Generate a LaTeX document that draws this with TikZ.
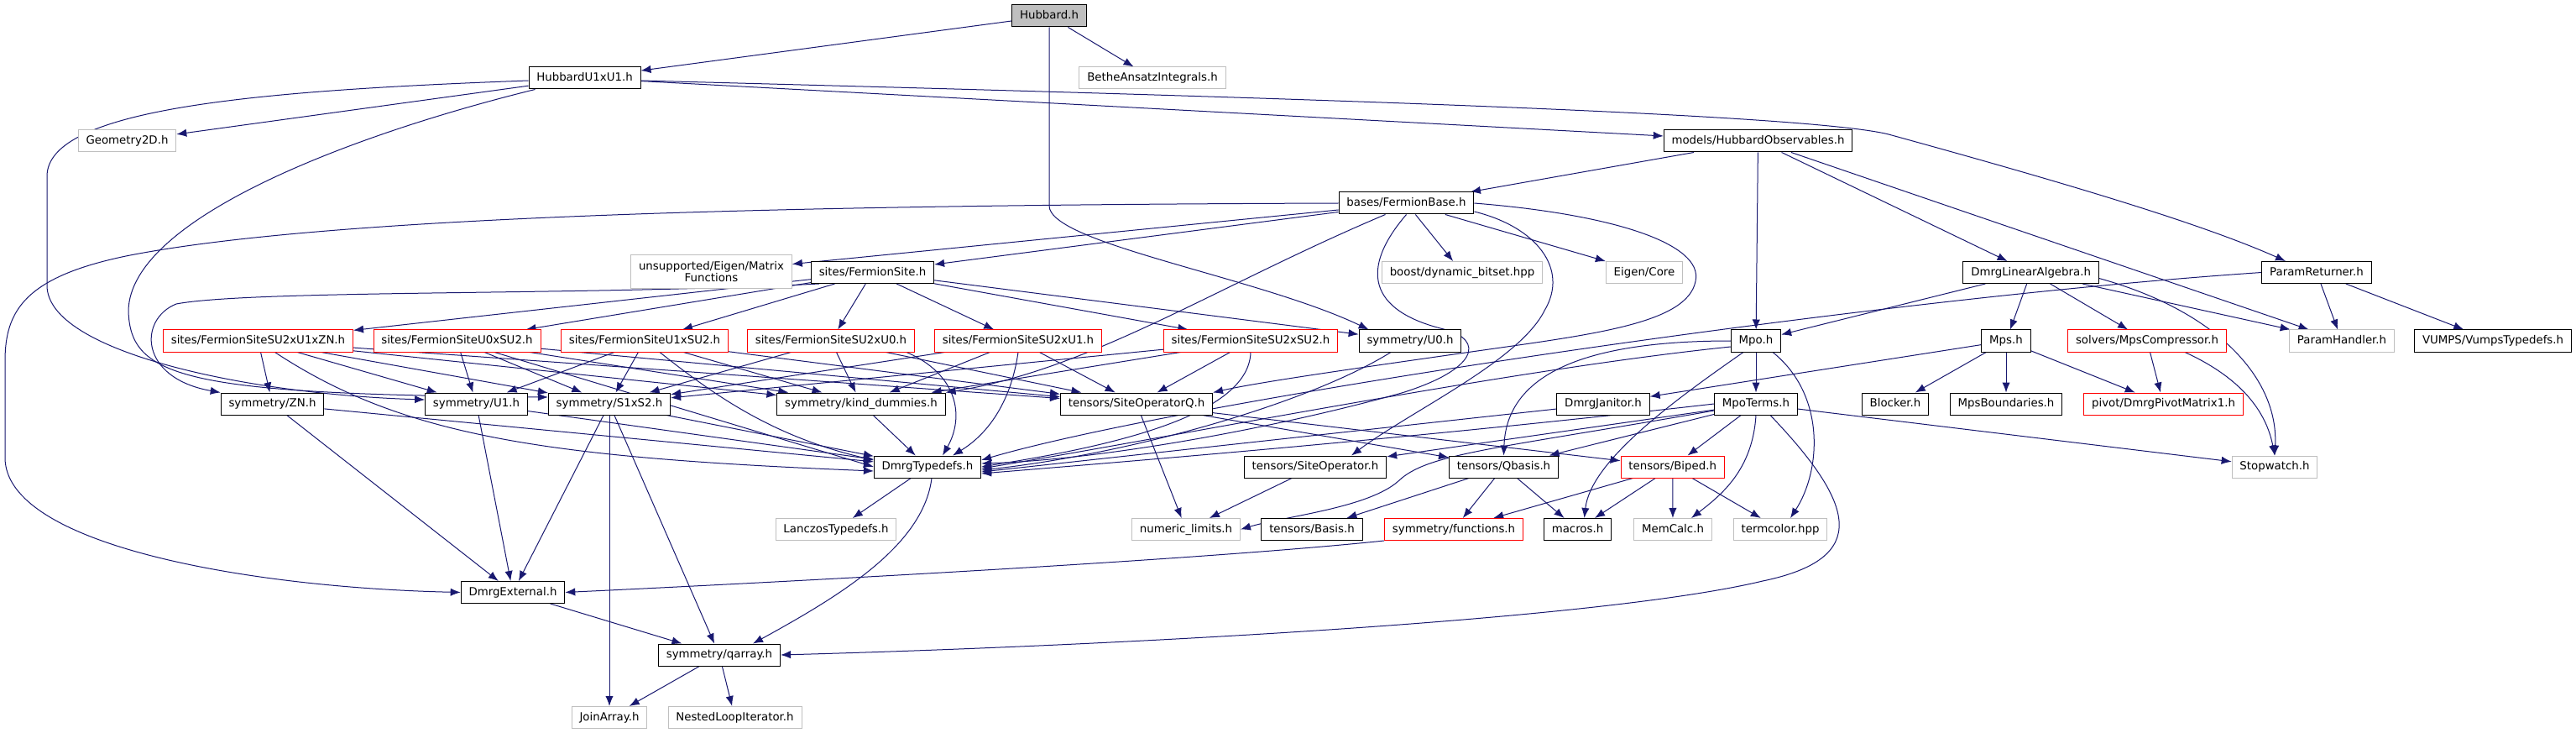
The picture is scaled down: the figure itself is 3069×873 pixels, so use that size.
\documentclass[tikz,border=0pt]{standalone}
\usepackage{fontspec}
\setmainfont{DejaVu Sans}
\usetikzlibrary{arrows.meta,calc}
\pgfdeclarelayer{bgl}
\pgfdeclarelayer{edgel}
\pgfsetlayers{bgl,edgel,main}
\definecolor{edgeblue}{HTML}{191970}
\definecolor{extgray}{HTML}{BFBFBF}
\definecolor{rootgray}{HTML}{BFBFBF}
\definecolor{truncred}{HTML}{FF0000}
\tikzset{
  nbase/.style={draw, line width=0.75pt, fill=white, font=\fontsize{10}{10.5}\selectfont, inner xsep=7pt, inner ysep=0pt},
  box/.style={nbase, minimum height=19.5pt, text height=7.6pt, text depth=2.2pt},
  doc/.style={box, draw=black},
  ext/.style={box, draw=extgray},
  trunc/.style={box, draw=truncred},
  root/.style={box, draw=black, fill=rootgray},
  e/.style={draw=edgeblue, line width=0.75pt, -{Latex[length=9pt,width=7pt]}},
}
\begin{document}
\begin{tikzpicture}[x=0.75pt,y=-0.75pt]
\begin{pgfonlayer}{bgl}
\fill[white] (0,0) rectangle (3069,873);
\end{pgfonlayer}
\useasboundingbox (0,0) rectangle (3069,873);
% row 0-3
\node[root] (hub) at (1250,19) {Hubbard.h};
\node[doc] (huu) at (696.5,93) {HubbardU1xU1.h};
\node[ext] (bethe) at (1373,93) {BetheAnsatzIntegrals.h};
\node[ext] (geo) at (151.5,168) {Geometry2D.h};
\node[doc] (ho) at (2094.5,168) {models/HubbardObservables.h};
\node[doc] (fb) at (1675.5,242) {bases/FermionBase.h};
% row 4
\node[nbase, draw=extgray, align=center, minimum height=30pt] (mf) at (847.5,324) {unsupported/Eigen/Matrix\\Functions};
\node[doc] (fs) at (1039.5,324.5) {sites/FermionSite.h};
\node[ext] (boost) at (1742,324.5) {boost/dynamic\_bitset.hpp};
\node[ext] (eigen) at (1959,324.5) {Eigen/Core};
\node[doc] (dla) at (2419.6,324.5) {DmrgLinearAlgebra.h};
\node[doc] (pr) at (2760,324.5) {ParamReturner.h};
% row 5
\node[trunc] (s1) at (307.5,406) {sites/FermionSiteSU2xU1xZN.h};
\node[trunc] (s2) at (544.5,406) {sites/FermionSiteU0xSU2.h};
\node[trunc] (s3) at (768,406) {sites/FermionSiteU1xSU2.h};
\node[trunc] (s4) at (990,406) {sites/FermionSiteSU2xU0.h};
\node[trunc] (s5) at (1213,406) {sites/FermionSiteSU2xU1.h};
\node[trunc] (s6) at (1490,406) {sites/FermionSiteSU2xSU2.h};
\node[doc] (u0) at (1680,406) {symmetry/U0.h};
\node[doc] (mpo) at (2092,406) {Mpo.h};
\node[doc] (mps) at (2390,406) {Mps.h};
\node[trunc] (mpsc) at (2558,406) {solvers/MpsCompressor.h};
\node[ext] (ph) at (2790,406) {ParamHandler.h};
\node[doc] (vumps) at (2970,406) {VUMPS/VumpsTypedefs.h};
% row 6
\node[doc] (zn) at (324.5,481) {symmetry/ZN.h};
\node[doc] (u1) at (567.5,481) {symmetry/U1.h};
\node[doc] (s1s2) at (726,481) {symmetry/S1xS2.h};
\node[doc] (kd) at (1026,481) {symmetry/kind\_dummies.h};
\node[doc] (soq) at (1354,481) {tensors/SiteOperatorQ.h};
\node[doc] (dj) at (1910,481) {DmrgJanitor.h};
\node[doc] (mt) at (2092,481) {MpoTerms.h};
\node[doc] (blk) at (2258,481) {Blocker.h};
\node[doc] (mpsb) at (2390,481) {MpsBoundaries.h};
\node[trunc] (piv) at (2577.5,481) {pivot/DmrgPivotMatrix1.h};
% row 7
\node[doc] (dt) at (1105,556) {DmrgTypedefs.h};
\node[doc] (so) at (1567,556) {tensors/SiteOperator.h};
\node[doc] (qb) at (1791.5,556) {tensors/Qbasis.h};
\node[trunc] (bip) at (1992.7,556) {tensors/Biped.h};
\node[ext] (sw) at (2710,556) {Stopwatch.h};
% row 8
\node[ext] (lz) at (996,630.5) {LanczosTypedefs.h};
\node[ext] (nl) at (1413,630.5) {numeric\_limits.h};
\node[doc] (bas) at (1563,630.5) {tensors/Basis.h};
\node[trunc] (fn) at (1732,630.5) {symmetry/functions.h};
\node[doc] (mac) at (1879.5,630.5) {macros.h};
\node[ext] (mc) at (1993,630.5) {MemCalc.h};
\node[ext] (tc) at (2121,630.5) {termcolor.hpp};
% rows 9-11
\node[doc] (dext) at (611,705.5) {DmrgExternal.h};
\node[doc] (qa) at (857,780) {symmetry/qarray.h};
\node[ext] (ja) at (726,854.5) {JoinArray.h};
\node[ext] (nli) at (875.5,854.5) {NestedLoopIterator.h};

\begin{pgfonlayer}{edgel}
% Hubbard.h
\draw[e] (hub) -- (huu);
\draw[e] (hub) -- (bethe);
\draw[e] (hub.south) -- (1250,245) .. controls (1250,290) and (1500,330) .. ($(u0.north west)+(12,0)$);
% HubbardU1xU1.h
\draw[e] (huu) -- (geo);
\draw[e] (huu) -- (ho);
\draw[e] ($(huu.east)+(0,3)$) .. controls (1500,115) and (2150,135) .. (2250,160) .. controls (2450,215) and (2620,265) .. ($(pr.north)+(-37,0)$);
\draw[e] ($(huu.west)+(0,3)$) .. controls (300,108) and (56,130) .. (56,210) -- (56,340) .. controls (56,420) and (300,470) .. ($(u1.west)+(0,-5)$);
\draw[e] ($(huu.south west)+(8,0)$) .. controls (420,160) and (155,260) .. (153,370) .. controls (155,450) and (220,470) .. ($(s1s2.west)+(0,-8)$);
% models/HubbardObservables.h
\draw[e] (ho) -- (fb);
\draw[e] (ho) -- (mpo);
\draw[e] (ho) -- (dla);
\draw[e] (ho) -- (ph);
% bases/FermionBase.h
\draw[e] (fb) -- (mf);
\draw[e] (fb) -- (fs);
\draw[e] (fb) -- (boost);
\draw[e] (fb) -- (eigen);
\draw[e] (fb.west) .. controls (1000,244) and (400,255) .. (150,305) .. controls (30,330) and (6,370) .. (6,430) -- (6,545) .. controls (6,650) and (300,700) .. (dext.west);
\draw[e] ($(fb.south)+(-25,0)$) .. controls (1450,340) and (1300,440) .. (kd.north east);
\draw[e] (fb.south) .. controls (1620,320) and (1630,370) .. (1720,392) .. controls (1770,405) and (1760,440) .. (1670,468) .. controls (1500,515) and (1300,548) .. ($(dt.east)+(0,-4)$);
\draw[e] ($(fb.east)+(0,10)$) .. controls (1830,270) and (1870,320) .. (1840,370) .. controls (1810,430) and (1680,490) .. ($(so.north)+(43,0)$);
\draw[e] (fb.east) .. controls (1920,255) and (2030,290) .. (2020,335) .. controls (2010,385) and (1900,398) .. (1760,418) .. controls (1620,438) and (1500,455) .. (soq.north east);
% sites/FermionSite.h
\draw[e] (fs) -- (s1);
\draw[e] (fs) -- (s2);
\draw[e] (fs) -- (s3);
\draw[e] (fs) -- (s4);
\draw[e] (fs) -- (s5);
\draw[e] (fs) -- (s6);
\draw[e] (fs) -- (u0);
\draw[e] ($(fs.south west)+(10,0)$) .. controls (700,352) and (300,345) .. (210,362) .. controls (165,380) and (165,450) .. (zn.north west);
% DmrgLinearAlgebra.h
\draw[e] (dla) -- (mpo);
\draw[e] (dla) -- (mps);
\draw[e] (dla) -- (mpsc);
\draw[e] (dla) -- (ph);
\draw[e] ($(dla.east)+(0,7)$) .. controls (2640,370) and (2715,450) .. (sw.north);
% ParamReturner.h
\draw[e] (pr) -- (ph);
\draw[e] (pr) -- (vumps);
\draw[e] (pr.west) .. controls (2200,358) and (1400,480) .. ($(dt.east)+(0,-8)$);
% site files
\draw[e] (s1) -- (zn);
\draw[e] (s1) -- (u1);
\draw[e] (s1) -- (s1s2);
\draw[e] (s1) -- (kd);
\draw[e] (s1) -- (soq);
\draw[e] ($(s1.south)+(20,0)$) .. controls (480,520) and (650,545) .. ($(dt.west)+(0,5)$);
\draw[e] (s2) -- (u1);
\draw[e] (s2) -- (s1s2);
\draw[e] (s2) -- (kd);
\draw[e] (s2) -- (soq);
\draw[e] (s2) -- (dt.west);
\draw[e] (s3) -- (u1);
\draw[e] (s3) -- (s1s2);
\draw[e] (s3) -- (kd);
\draw[e] (s3) -- (soq);
\draw[e] ($(s3.south)+(18,0)$) .. controls (850,470) and (920,520) .. ($(dt.west)+(0,-8)$);
\draw[e] (s4) -- (s1s2);
\draw[e] (s4) -- (kd);
\draw[e] (s4) -- (soq);
\draw[e] ($(s4.south east)+(-10,0)$) .. controls (1140,445) and (1150,495) .. ($(dt.north)+(18,0)$);
\draw[e] (s5) -- (s1s2);
\draw[e] (s5) -- (kd);
\draw[e] (s5) -- (soq);
\draw[e] (s5.south) .. controls (1205,475) and (1180,515) .. ($(dt.north)+(30,0)$);
\draw[e] (s6) -- (s1s2);
\draw[e] (s6) -- (kd);
\draw[e] (s6) -- (soq);
\draw[e] (s6.south) .. controls (1488,500) and (1300,535) .. (dt.east);
% symmetry row
\draw[e] (zn) -- (dext);
\draw[e] (zn) -- (dt);
\draw[e] (u1) -- (dext);
\draw[e] (u1) -- (dt);
\draw[e] (s1s2) -- (dext);
\draw[e] (s1s2) -- (dt);
\draw[e] (s1s2) -- (qa);
\draw[e] (s1s2) -- (ja);
\draw[e] (kd) -- (dt);
\draw[e] ($(u0.south)+(-23,0)$) .. controls (1560,480) and (1350,540) .. ($(dt.east)+(0,4)$);
\draw[e] (dj) -- ($(dt.east)+(0,6)$);
% tensors/SiteOperatorQ.h
\draw[e] (soq) -- (nl);
\draw[e] (soq) -- (qb);
\draw[e] (soq) -- (bip);
% Mpo.h
\draw[e] (mpo) -- (mt);
\draw[e] (mpo.west) .. controls (1900,406) and (1795,440) .. (qb.north);
\draw[e] ($(mpo.west)+(0,7)$) .. controls (1800,440) and (1400,520) .. ($(dt.east)+(0,2)$);
\draw[e] ($(mpo.south)+(-15,0)$) .. controls (1990,480) and (1895,550) .. ($(mac.north)+(8,0)$);
\draw[e] ($(mpo.south)+(20,0)$) .. controls (2175,470) and (2170,560) .. ($(tc.north)+(12,0)$);
% MpoTerms.h
\draw[e] (mt) -- (bip);
\draw[e] (mt) -- (sw);
\draw[e] (mt) -- (qb);
\draw[e] (mt) -- (so);
\draw[e] (mt.south) .. controls (2088,560) and (2050,590) .. ($(mc.north)+(22,0)$);
\draw[e] ($(mt.west)+(0,8)$) .. controls (1780,535) and (1700,540) .. (1666,573) .. controls (1630,605) and (1530,615) .. (nl.east);
\draw[e] (mt.west) .. controls (1700,520) and (1400,545) .. ($(dt.east)+(0,8)$);
\draw[e] ($(mt.south)+(17,0)$) .. controls (2210,600) and (2230,665) .. (2100,692) .. controls (1900,740) and (1300,770) .. (qa.east);
% Mps.h, solvers
\draw[e] (mps) -- (dj);
\draw[e] (mps) -- (blk);
\draw[e] (mps) -- (mpsb);
\draw[e] (mps) -- (piv);
\draw[e] (mpsc) -- (piv);
\draw[e] ($(mpsc.south)+(45,0)$) .. controls (2670,450) and (2700,490) .. (sw.north);
% lower part
\draw[e] (so) -- (nl);
\draw[e] (qb) -- (bas);
\draw[e] (qb) -- (fn);
\draw[e] (qb) -- (mac);
\draw[e] (bip) -- (fn);
\draw[e] (bip) -- (mac);
\draw[e] (bip) -- (mc);
\draw[e] (bip) -- (tc);
\draw[e] (fn.south west) .. controls (1450,665) and (1000,690) .. (dext.east);
\draw[e] (dt) -- (lz);
\draw[e] ($(dt.south)+(5,0)$) .. controls (1100,650) and (1000,710) .. ($(qa.north)+(40,0)$);
\draw[e] (dext) -- (qa);
\draw[e] (qa) -- (ja);
\draw[e] (qa) -- (nli);
\end{pgfonlayer}
\end{tikzpicture}
\end{document}
